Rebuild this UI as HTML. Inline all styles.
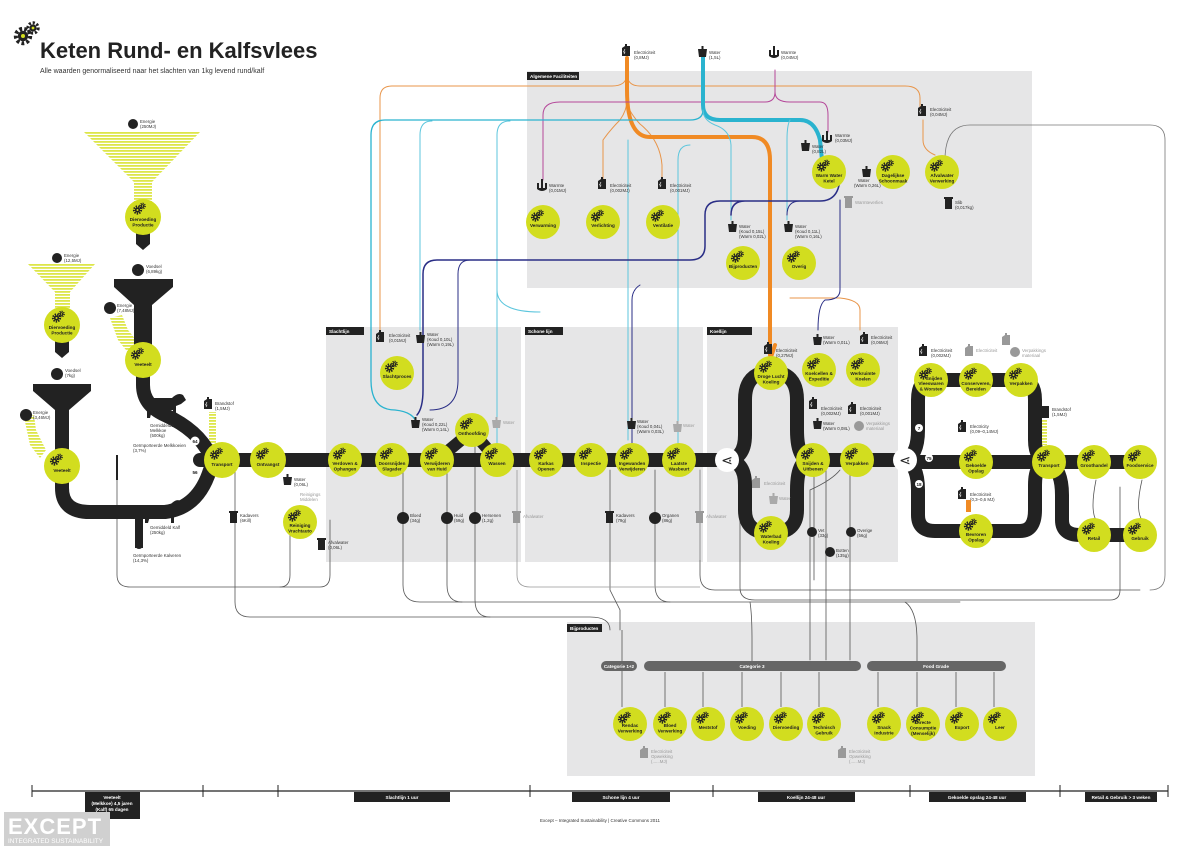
<!DOCTYPE html>
<html><head><meta charset="utf-8"><style>
html,body{margin:0;padding:0;background:#fff}
svg{display:block;font-family:"Liberation Sans",sans-serif}
.l{font-size:4.6px;font-weight:bold;text-anchor:middle;fill:#222}
.s{font-size:4.4px;fill:#333}
.g{font-size:4.4px;fill:#999}
.h{font-size:4.6px;fill:#fff;font-weight:bold}
.n{fill:#d2dd1f}
.ln{fill:none;stroke-linecap:round}
</style></head><body>
<svg width="1200" height="850" viewBox="0 0 1200 850" xmlns="http://www.w3.org/2000/svg">
<defs>
<symbol id="gr" viewBox="0 0 14 12" overflow="visible">
<circle cx="4.5" cy="7" r="2.6" fill="#222" stroke="#222" stroke-width="0"/>
<circle cx="4.5" cy="7" r="3.6" fill="none" stroke="#222" stroke-width="2" stroke-dasharray="1.4 1.1"/>
<circle cx="9.5" cy="3" r="1.8" fill="#222"/>
<circle cx="9.5" cy="3" r="2.6" fill="none" stroke="#222" stroke-width="1.5" stroke-dasharray="1.1 0.9"/>
<circle cx="4.5" cy="7" r="1" fill="#d2dd1f"/><circle cx="9.5" cy="3" r=".7" fill="#d2dd1f"/>
</symbol>
<symbol id="fac" overflow="visible"><path d="M0,12 V4 L3,2 V0 H5 V12 Z M5,12 V2 H8 V12Z" fill="#222"/><path d="M1,5 L-0.5,8 H1 L0,10" stroke="#fff" stroke-width=".6" fill="none" transform="translate(2,0)"/></symbol>
<symbol id="facg" overflow="visible"><path d="M0,12 V4 L3,2 V0 H5 V12 Z M5,12 V2 H8 V12Z" fill="#999"/></symbol>
<symbol id="cup" overflow="visible"><path d="M0,3 H9 L8,11 H1 Z" fill="#222"/><rect x="3.5" y="0" width="2" height="4" fill="#222"/></symbol>
<symbol id="cupg" overflow="visible"><path d="M0,3 H9 L8,11 H1 Z" fill="#aaa"/><rect x="3.5" y="0" width="2" height="4" fill="#aaa"/></symbol>
<symbol id="bin" overflow="visible"><rect x="0" y="2" width="7" height="10" fill="#222"/><rect x="-1" y="0" width="9" height="2" fill="#222"/></symbol>
<symbol id="bing" overflow="visible"><rect x="0" y="2" width="7" height="10" fill="#999"/><rect x="-1" y="0" width="9" height="2" fill="#999"/></symbol>
<symbol id="heat" overflow="visible"><path d="M0,4 V10 Q5,14 10,10 V4 H8 V9 H2 V4Z" fill="#222"/><rect x="4" y="0" width="2" height="9" fill="#222"/></symbol>
<pattern id="st" width="4" height="3" patternUnits="userSpaceOnUse"><rect width="4" height="1.8" fill="#dde64a"/></pattern>
</defs>

<!-- title -->
<use href="#gr" x="14" y="22" width="28" height="24"/>
<text x="40" y="58" font-size="22" font-weight="bold" fill="#222">Keten Rund- en Kalfsvlees</text>
<text x="40" y="73" font-size="7" fill="#333">Alle waarden genormaliseerd naar  het slachten van 1kg levend rund/kalf</text>

<!-- panels -->
<rect x="527" y="71" width="505" height="217" fill="#e6e6e7"/>
<rect x="527" y="72" width="52" height="8" fill="#222"/><text x="530" y="78" class="h">Algemene Faciliteiten</text>
<rect x="326" y="327" width="195" height="235" fill="#e6e6e7"/>
<rect x="326" y="327" width="38" height="8" fill="#222"/><text x="329" y="333" class="h">Slachtlijn</text>
<rect x="525" y="327" width="178" height="235" fill="#e6e6e7"/>
<rect x="525" y="327" width="38" height="8" fill="#222"/><text x="528" y="333" class="h">Schone lijn</text>
<rect x="707" y="327" width="191" height="235" fill="#e6e6e7"/>
<rect x="707" y="327" width="45" height="8" fill="#222"/><text x="710" y="333" class="h">Koellijn</text>
<rect x="567" y="622" width="468" height="154" fill="#e6e6e7"/>
<rect x="567" y="624" width="35" height="8" fill="#222"/><text x="570" y="630" class="h">Bijproducten</text>

<!-- colored utility lines -->
<g class="ln">
<path d="M920,110 V98 Q920,86 905,86 H640 Q628,86 627,75 Q626,86 612,86 H392 Q380,86 380,98 V330" stroke="#e8954a" stroke-width="1"/>
<path d="M627,58 V100 Q627,110 620,120 Q610,130 603,140 V180 M627,100 Q627,110 640,124 Q660,140 662,165 V180" stroke="#e8954a" stroke-width="1"/>
<path d="M627,58 V90 Q627,137 650,137 H752 Q770,137 770,160 V355" stroke="#f08a24" stroke-width="4"/>
<path d="M923,120 V140 Q923,150 935,155" stroke="#e8954a" stroke-width="1"/>
<path d="M775,345 L770,360" stroke="#f08a24" stroke-width="4"/>
<path d="M860,330 V310 Q860,300 840,298 H790" stroke="#e8954a" stroke-width="1"/>
<path d="M775,70 V92 Q775,102 765,102 H560 Q543,102 543,115 V180" stroke="#b5489a" stroke-width="1"/>
<path d="M775,92 Q775,102 790,102 H820 Q828,102 828,115 V132" stroke="#b5489a" stroke-width="1"/>
<path d="M703,55 V105 Q703,120 720,120 H800 Q815,120 820,140 L822,160" stroke="#2ab3cf" stroke-width="4"/>
<path d="M703,110 Q703,120 690,120 H385 Q371,120 371,135 V330" stroke="#2ab3cf" stroke-width="1.3"/>
<path d="M703,110 Q703,120 715,125 Q730,130 731,145 V220" stroke="#5cc6dd" stroke-width="1"/>
<path d="M790,120 Q787,125 787,140 V220" stroke="#5cc6dd" stroke-width="1"/>
<path d="M420,330 V135 Q420,121 432,121 M497,455 V135 Q497,121 510,121" stroke="#5cc6dd" stroke-width="1"/>
<path d="M371,330 V380 Q371,410 395,410 Q415,412 417,425" stroke="#2ab3cf" stroke-width="1.3"/>
<path d="M540,312 Q497,312 497,290" stroke="#5cc6dd" stroke-width="1"/>
<path d="M678,445 V160 Q678,145 690,145 M628,440 V140" stroke="#5cc6dd" stroke-width="1"/>
<path d="M840,175 Q840,201 820,201 H745 Q731,201 731,215 M745,201 H720 Q705,201 705,215 V246 Q705,260 690,260 H437 Q423,260 423,274 V390 Q423,408 417,415" stroke="#2a2e86" stroke-width="1.5"/>
<path d="M800,201 Q787,201 787,215 M470,260 Q458,260 458,274 V380 Q458,410 430,410" stroke="#2a2e86" stroke-width="1"/>
<path d="M840,200 V290 Q840,300 825,300 Q818,305 818,330" stroke="#2a2e86" stroke-width="1"/>
<path d="M632,445 V300 Q632,290 640,285" stroke="#2a2e86" stroke-width="1"/>
<path d="M945,160 Q945,125 970,125 H1150 Q1165,125 1165,140 V575 Q1165,590 1150,590" stroke="#777" stroke-width="0.8"/>
</g>

<!-- gray byproduct connectors -->
<g class="ln" stroke="#555" stroke-width="0.8">
<path d="M235,460 V602 Q235,617 250,617 H590 Q610,617 610,630"/>
<path d="M403,470 V585 Q403,602 420,602 H960"/>
<path d="M447,470 V585 Q447,602 462,602"/>
<path d="M475,445 V600 Q475,617 490,617"/>
<path d="M610,470 V590 Q615,600 620,610 V630"/>
<path d="M655,470 V585 Q655,602 670,602"/>
<path d="M117,480 V575 Q117,587 130,587 H320 Q330,587 330,575 V520"/>
<path d="M290,520 V575 Q290,587 280,587"/>
<path d="M840,470 Q832,480 810,490 V660 M826,470 V660 M850,470 V660 M814,475 V580"/>
<path d="M740,505 V588 Q740,600 755,600 H1110 Q1120,600 1120,590 V487"/>
<path d="M700,470 V575 Q700,590 715,590 H1140"/>
<path d="M750,602 Q752,615 752,640 V666 M905,602 Q917,610 917,640 V666"/>
<path d="M1096,480 Q1090,510 1096,520 M1142,480 Q1135,510 1142,520"/>
</g>
<g stroke="#999" stroke-width="0.8" fill="none"><path d="M517,470 V575 Q517,587 530,587 H700"/><path d="M700,470 V560"/></g>

<!-- funnels left -->
<polygon points="84,132 200,132 152,182 152,205 134,205 134,182" fill="url(#st)"/>
<polygon points="28,264 95,264 70,292 70,310 55,310 55,292" fill="url(#st)"/>
<polygon points="110,318 122,315 128,330 140,345 130,355 118,340" fill="url(#st)"/>
<polygon points="24,417 34,415 36,430 46,450 40,458 30,445" fill="url(#st)"/>
<rect x="209" y="412" width="7" height="40" fill="url(#st)"/>
<path d="M136,232 H150 V244 L143,250 L136,244Z" fill="#222"/>
<path d="M55,340 H69 V352 L62,358 L55,352Z" fill="#222"/>
<circle cx="133" cy="124" r="5" fill="#222"/><text x="140" y="123" class="s">Energie</text><text x="140" y="128" class="s">(250MJ)</text>
<circle cx="57" cy="258" r="5" fill="#222"/><text x="64" y="257" class="s">Energie</text><text x="64" y="262" class="s">(12,5MJ)</text>
<circle cx="138" cy="270" r="6" fill="#222"/><text x="146" y="268" class="s">Voedsel</text><text x="146" y="273" class="s">(6,89kg)</text>
<circle cx="57" cy="374" r="6" fill="#222"/><text x="65" y="372" class="s">Voedsel</text><text x="65" y="377" class="s">(7kg)</text>
<circle cx="110" cy="308" r="6" fill="#222"/><text x="117" y="307" class="s">Energie</text><text x="117" y="312" class="s">(7,48MJ)</text>
<circle cx="26" cy="415" r="6" fill="#222"/><text x="33" y="414" class="s">Energie</text><text x="33" y="419" class="s">(3,46MJ)</text>
<polygon points="114,279 173,279 173,287 152,305 152,350 134,350 134,305 114,287" fill="#222"/>
<polygon points="33,384 91,384 91,391 69,410 69,455 55,455 55,410 33,391" fill="#222"/>

<!-- main black tracks -->
<g class="ln" stroke="#222" stroke-width="14" stroke-linecap="butt">
<path d="M143,360 V385 Q143,405 165,415 Q198,430 210,455"/>
<path d="M62,466 V488 Q62,512 90,512 H165 Q198,508 210,470"/>
<path d="M139,510 V545" stroke-width="8"/>
<path d="M143,410 V430" stroke-width="0"/>
<path d="M200,460 H720"/>
<path d="M437,460 L472,431 L497,460" stroke-width="12"/>
<path d="M725,460 Q745,460 745,435 V400 Q745,372 771,372 Q797,372 797,400 V430 Q797,460 811,460"/>
<path d="M725,460 Q745,460 745,485 V510 Q745,533 771,533 Q797,533 797,510 V490 Q797,460 811,460"/>
<path d="M811,460 H905"/>
<path d="M905,460 Q918,455 918,430 V400 Q918,380 931,380 H1021 Q1035,380 1035,400 V440 Q1035,460 1049,462"/>
<path d="M905,460 Q918,465 918,490 V515 Q918,531 935,531 H1020 Q1035,531 1035,510 V485 Q1035,462 1049,462"/>
<path d="M905,462 H1140"/>
<path d="M1049,462 Q1062,470 1062,495 V520 Q1062,535 1080,535 H1140"/>
</g>
<path d="M117,455 V480" stroke="#222" stroke-width="2" fill="none"/>
<path d="M139,520 V548" stroke="#222" stroke-width="8" fill="none"/>
<!-- cows -->
<g fill="#222"><path d="M146,398 H172 Q178,392 183,395 L186,400 L181,404 L176,406 V418 H173 V410 H152 L150,418 H147 L147,408 Q143,403 146,398Z"/>
<path d="M143,505 H170 Q176,498 181,501 L184,506 L179,510 L174,512 V523 H171 V516 H150 L148,523 H145 L145,514 Q140,509 143,505Z"/></g>
<text x="150" y="427" class="s">Gemiddelde</text><text x="150" y="432" class="s">Melkkoe</text><text x="150" y="437" class="s">(500kg)</text>
<text x="133" y="447" class="s">Geïmporteerde Melkkoeien</text><text x="133" y="452" class="s">(3,7%)</text>
<text x="150" y="529" class="s">Gemiddeld Kalf</text><text x="150" y="534" class="s">(250kg)</text>
<text x="133" y="557" class="s">Geïmporteerde Kalveren</text><text x="133" y="562" class="s">(14,3%)</text>
<circle cx="195" cy="441" r="4.5" fill="#fff"/><text x="195" y="443" class="l" font-size="3.5">64</text>
<circle cx="195" cy="472" r="4.5" fill="#fff"/><text x="195" y="474" class="l" font-size="3.5">56</text>

<!-- splitters -->
<circle cx="727" cy="460" r="12" fill="#fff"/><text x="727" y="465" font-size="14" text-anchor="middle" fill="#222">⋖</text>
<circle cx="905" cy="460" r="12" fill="#fff"/><text x="905" y="465" font-size="14" text-anchor="middle" fill="#222">⋖</text>

<!-- nodes -->
<g id="nodes">
<g transform="translate(143,217)"><circle r="18" class="n"/><use href="#gr" x="-10" y="-14" width="14" height="12"/><text y="4" class="l">Diervoeding</text><text y="9.5" class="l">Productie</text></g>
<g transform="translate(62,325)"><circle r="18" class="n"/><use href="#gr" x="-10" y="-14" width="14" height="12"/><text y="4" class="l">Diervoeding</text><text y="9.5" class="l">Productie</text></g>
<g transform="translate(143,360)"><circle r="18" class="n"/><use href="#gr" x="-12" y="-12" width="14" height="12"/><text y="6" class="l">Veeteelt</text></g>
<g transform="translate(62,466)"><circle r="18" class="n"/><use href="#gr" x="-12" y="-12" width="14" height="12"/><text y="6" class="l">Veeteelt</text></g>
<g transform="translate(222,460)"><circle r="18" class="n"/><use href="#gr" x="-12" y="-12" width="14" height="12"/><text y="6" class="l">Transport</text></g>
<g transform="translate(268,460)"><circle r="18" class="n"/><use href="#gr" x="-12" y="-12" width="14" height="12"/><text y="6" class="l">Ontvangst</text></g>
<g transform="translate(300,522)"><circle r="17" class="n"/><use href="#gr" x="-12" y="-12" width="14" height="12"/><text y="5" class="l">Reiniging</text><text y="10.5" class="l">Vrachtauto</text></g>
<g transform="translate(345,460)"><circle r="17" class="n"/><use href="#gr" x="-12" y="-12" width="14" height="12"/><text y="5" class="l">Verdoven &amp;</text><text y="10.5" class="l">Ophangen</text></g>
<g transform="translate(392,460)"><circle r="17" class="n"/><use href="#gr" x="-12" y="-12" width="14" height="12"/><text y="5" class="l">Doorsnijden</text><text y="10.5" class="l">Slagader</text></g>
<g transform="translate(437,460)"><circle r="17" class="n"/><use href="#gr" x="-12" y="-12" width="14" height="12"/><text y="5" class="l">Verwijderen</text><text y="10.5" class="l">van Huid</text></g>
<g transform="translate(472,430)"><circle r="17" class="n"/><use href="#gr" x="-12" y="-12" width="14" height="12"/><text y="5" class="l">Onthoofding</text></g>
<g transform="translate(497,460)"><circle r="17" class="n"/><use href="#gr" x="-12" y="-12" width="14" height="12"/><text y="5" class="l">Wassen</text></g>
<g transform="translate(397,373)"><circle r="17" class="n"/><use href="#gr" x="-12" y="-12" width="14" height="12"/><text y="5" class="l">Slachtproces</text></g>
<g transform="translate(546,460)"><circle r="17" class="n"/><use href="#gr" x="-12" y="-12" width="14" height="12"/><text y="5" class="l">Karkas</text><text y="10.5" class="l">Openen</text></g>
<g transform="translate(591,460)"><circle r="17" class="n"/><use href="#gr" x="-12" y="-12" width="14" height="12"/><text y="5" class="l">Inspectie</text></g>
<g transform="translate(632,460)"><circle r="17" class="n"/><use href="#gr" x="-12" y="-12" width="14" height="12"/><text y="5" class="l">Ingewanden</text><text y="10.5" class="l">Verwijderen</text></g>
<g transform="translate(679,460)"><circle r="17" class="n"/><use href="#gr" x="-12" y="-12" width="14" height="12"/><text y="5" class="l">Laatste</text><text y="10.5" class="l">Wasbeurt</text></g>
<g transform="translate(771,373)"><circle r="17" class="n"/><use href="#gr" x="-12" y="-12" width="14" height="12"/><text y="5" class="l">Droge Lucht</text><text y="10.5" class="l">Koeling</text></g>
<g transform="translate(771,533)"><circle r="17" class="n"/><use href="#gr" x="-12" y="-12" width="14" height="12"/><text y="5" class="l">Waterbad</text><text y="10.5" class="l">Koeling</text></g>
<g transform="translate(819,370)"><circle r="17" class="n"/><use href="#gr" x="-12" y="-12" width="14" height="12"/><text y="5" class="l">Koelcellen &amp;</text><text y="10.5" class="l">Expeditie</text></g>
<g transform="translate(863,370)"><circle r="17" class="n"/><use href="#gr" x="-12" y="-12" width="14" height="12"/><text y="5" class="l">Werkruimte</text><text y="10.5" class="l">Koelen</text></g>
<g transform="translate(813,460)"><circle r="17" class="n"/><use href="#gr" x="-12" y="-12" width="14" height="12"/><text y="5" class="l">Snijden &amp;</text><text y="10.5" class="l">Uitbenen</text></g>
<g transform="translate(857,460)"><circle r="17" class="n"/><use href="#gr" x="-12" y="-12" width="14" height="12"/><text y="5" class="l">Verpakken</text></g>
<g transform="translate(931,380)"><circle r="17" class="n"/><use href="#gr" x="-12" y="-12" width="14" height="12"/><text x="3" y="0" class="l">Snijden</text><text y="5" class="l">Vleeswaren</text><text y="10.5" class="l">&amp; Worsten</text></g>
<g transform="translate(976,380)"><circle r="17" class="n"/><use href="#gr" x="-12" y="-12" width="14" height="12"/><text y="5" class="l">Conserveren,</text><text y="10.5" class="l">Bereiden</text></g>
<g transform="translate(1021,380)"><circle r="17" class="n"/><use href="#gr" x="-12" y="-12" width="14" height="12"/><text y="5" class="l">Verpakken</text></g>
<g transform="translate(976,462)"><circle r="17" class="n"/><use href="#gr" x="-12" y="-12" width="14" height="12"/><text y="5" class="l">Gekoelde</text><text y="10.5" class="l">Opslag</text></g>
<g transform="translate(976,531)"><circle r="17" class="n"/><use href="#gr" x="-12" y="-12" width="14" height="12"/><text y="5" class="l">Bevroren</text><text y="10.5" class="l">Opslag</text></g>
<g transform="translate(1049,462)"><circle r="17" class="n"/><use href="#gr" x="-12" y="-12" width="14" height="12"/><text y="5" class="l">Transport</text></g>
<g transform="translate(1094,462)"><circle r="17" class="n"/><use href="#gr" x="-12" y="-12" width="14" height="12"/><text y="5" class="l">Groothandel</text></g>
<g transform="translate(1140,462)"><circle r="17" class="n"/><use href="#gr" x="-12" y="-12" width="14" height="12"/><text y="5" class="l">Foodservice</text></g>
<g transform="translate(1094,535)"><circle r="17" class="n"/><use href="#gr" x="-12" y="-12" width="14" height="12"/><text y="5" class="l">Retail</text></g>
<g transform="translate(1140,535)"><circle r="17" class="n"/><use href="#gr" x="-12" y="-12" width="14" height="12"/><text y="5" class="l">Gebruik</text></g>
<!-- facilities -->
<g transform="translate(543,222)"><circle r="17" class="n"/><use href="#gr" x="-12" y="-12" width="14" height="12"/><text y="5" class="l">Verwarming</text></g>
<g transform="translate(603,222)"><circle r="17" class="n"/><use href="#gr" x="-12" y="-12" width="14" height="12"/><text y="5" class="l">Verlichting</text></g>
<g transform="translate(663,222)"><circle r="17" class="n"/><use href="#gr" x="-12" y="-12" width="14" height="12"/><text y="5" class="l">Ventilatie</text></g>
<g transform="translate(743,263)"><circle r="17" class="n"/><use href="#gr" x="-12" y="-12" width="14" height="12"/><text y="5" class="l">Bijproducten</text></g>
<g transform="translate(799,263)"><circle r="17" class="n"/><use href="#gr" x="-12" y="-12" width="14" height="12"/><text y="5" class="l">Overig</text></g>
<g transform="translate(829,172)"><circle r="17" class="n"/><use href="#gr" x="-12" y="-12" width="14" height="12"/><text y="5" class="l">Warm Water</text><text y="10.5" class="l">Ketel</text></g>
<g transform="translate(893,172)"><circle r="17" class="n"/><use href="#gr" x="-12" y="-12" width="14" height="12"/><text y="5" class="l">Dagelijkse</text><text y="10.5" class="l">Schoonmaak</text></g>
<g transform="translate(942,172)"><circle r="17" class="n"/><use href="#gr" x="-12" y="-12" width="14" height="12"/><text y="5" class="l">Afvalwater</text><text y="10.5" class="l">Verwerking</text></g>
<!-- byproducts -->
<g transform="translate(630,724)"><circle r="17" class="n"/><use href="#gr" x="-12" y="-12" width="14" height="12"/><text y="3" class="l">Rendac</text><text y="8.5" class="l">Verwerking</text></g>
<g transform="translate(670,724)"><circle r="17" class="n"/><use href="#gr" x="-12" y="-12" width="14" height="12"/><text y="3" class="l">Bloed</text><text y="8.5" class="l">Verwerking</text></g>
<g transform="translate(708,724)"><circle r="17" class="n"/><use href="#gr" x="-12" y="-12" width="14" height="12"/><text y="5" class="l">Meststof</text></g>
<g transform="translate(747,724)"><circle r="17" class="n"/><use href="#gr" x="-12" y="-12" width="14" height="12"/><text y="5" class="l">Voeding</text></g>
<g transform="translate(786,724)"><circle r="17" class="n"/><use href="#gr" x="-12" y="-12" width="14" height="12"/><text y="5" class="l">Diervoeding</text></g>
<g transform="translate(824,724)"><circle r="17" class="n"/><use href="#gr" x="-12" y="-12" width="14" height="12"/><text y="5" class="l">Technisch</text><text y="10.5" class="l">Gebruik</text></g>
<g transform="translate(884,724)"><circle r="17" class="n"/><use href="#gr" x="-12" y="-12" width="14" height="12"/><text y="5" class="l">Snack</text><text y="10.5" class="l">Industrie</text></g>
<g transform="translate(923,724)"><circle r="17" class="n"/><use href="#gr" x="-12" y="-12" width="14" height="12"/><text y="0" class="l">Directe</text><text y="5.5" class="l">Consumptie</text><text y="11" class="l">(Menselijk)</text></g>
<g transform="translate(962,724)"><circle r="17" class="n"/><use href="#gr" x="-12" y="-12" width="14" height="12"/><text y="5" class="l">Export</text></g>
<g transform="translate(1000,724)"><circle r="17" class="n"/><use href="#gr" x="-12" y="-12" width="14" height="12"/><text y="5" class="l">Leer</text></g>
</g>

<!-- bijproducten bars -->
<g stroke="#555" stroke-width="0.8">
<line x1="622" y1="630" x2="622" y2="707"/><line x1="665" y1="672" x2="665" y2="707"/><line x1="703" y1="672" x2="703" y2="707"/><line x1="742" y1="672" x2="742" y2="707"/><line x1="781" y1="672" x2="781" y2="707"/><line x1="819" y1="672" x2="819" y2="707"/><line x1="878" y1="672" x2="878" y2="707"/><line x1="917" y1="672" x2="917" y2="707"/><line x1="956" y1="672" x2="956" y2="707"/><line x1="994" y1="672" x2="994" y2="707"/>
</g>
<rect x="601" y="661" width="36" height="10" rx="5" fill="#666"/><text x="619" y="668" class="h" text-anchor="middle">Categorie 1+2</text>
<rect x="644" y="661" width="217" height="10" rx="5" fill="#666"/><text x="752" y="668" class="h" text-anchor="middle">Categorie 3</text>
<rect x="867" y="661" width="139" height="10" rx="5" fill="#666"/><text x="936" y="668" class="h" text-anchor="middle">Food Grade</text>
<use href="#facg" x="640" y="746"/><text x="651" y="753" class="g">Electriciteit</text><text x="651" y="758" class="g">Opwekking</text><text x="651" y="763" class="g">(......MJ)</text>
<use href="#facg" x="838" y="746"/><text x="849" y="753" class="g">Electriciteit</text><text x="849" y="758" class="g">Opwekking</text><text x="849" y="763" class="g">(......MJ)</text>

<!-- small icons & labels -->
<use href="#fac" x="622" y="44"/><text x="634" y="54" class="s">Electriciteit</text><text x="634" y="59" class="s">(0,8MJ)</text>
<use href="#cup" x="698" y="46"/><text x="709" y="54" class="s">Water</text><text x="709" y="59" class="s">(1,5L)</text>
<use href="#heat" x="769" y="46"/><text x="781" y="54" class="s">Warmte</text><text x="781" y="59" class="s">(0,04MJ)</text>
<use href="#fac" x="918" y="104"/><text x="930" y="111" class="s">Electriciteit</text><text x="930" y="116" class="s">(0,04MJ)</text>
<use href="#heat" x="822" y="131"/><text x="835" y="137" class="s">Warmte</text><text x="835" y="142" class="s">(0,03MJ)</text>
<use href="#cup" x="801" y="140"/><text x="812" y="148" class="s">Water</text><text x="812" y="153" class="s">(0,82L)</text>
<use href="#cup" x="862" y="166"/><text x="858" y="182" class="s">Water</text><text x="854" y="187" class="s">(Warm 0,26L)</text>
<use href="#bing" x="845" y="196"/><text x="855" y="204" class="g">Warmteverlies</text>
<use href="#bin" x="945" y="197"/><text x="955" y="204" class="s">Slib</text><text x="955" y="209" class="s">(0,017kg)</text>
<use href="#heat" x="537" y="179"/><text x="549" y="187" class="s">Warmte</text><text x="549" y="192" class="s">(0,01MJ)</text>
<use href="#fac" x="598" y="177"/><text x="610" y="187" class="s">Electriciteit</text><text x="610" y="192" class="s">(0,002MJ)</text>
<use href="#fac" x="658" y="177"/><text x="670" y="187" class="s">Electriciteit</text><text x="670" y="192" class="s">(0,001MJ)</text>
<use href="#cup" x="728" y="221"/><text x="739" y="228" class="s">Water</text><text x="739" y="233" class="s">(Koud 0,15L)</text><text x="739" y="238" class="s">(Warm 0,02L)</text>
<use href="#cup" x="784" y="221"/><text x="795" y="228" class="s">Water</text><text x="795" y="233" class="s">(Koud 0,11L)</text><text x="795" y="238" class="s">(Warm 0,16L)</text>
<use href="#fac" x="376" y="330"/><text x="389" y="337" class="s">Electriciteit</text><text x="389" y="342" class="s">(0,01MJ)</text>
<use href="#cup" x="416" y="332"/><text x="427" y="336" class="s">Water</text><text x="427" y="341" class="s">(Koud 0,10L)</text><text x="427" y="346" class="s">(Warm 0,19L)</text>
<use href="#cup" x="411" y="417"/><text x="422" y="421" class="s">Water</text><text x="422" y="426" class="s">(Koud 0,22L)</text><text x="422" y="431" class="s">(Warm 0,14L)</text>
<use href="#cupg" x="492" y="417"/><text x="503" y="424" class="g">Water</text>
<use href="#cup" x="627" y="418"/><text x="637" y="423" class="s">Water</text><text x="637" y="428" class="s">(Koud 0,04L)</text><text x="637" y="433" class="s">(Warm 0,03L)</text>
<use href="#cupg" x="673" y="421"/><text x="683" y="427" class="g">Water</text>
<use href="#fac" x="204" y="397"/><text x="215" y="405" class="s">Brandstof</text><text x="215" y="410" class="s">(1,5MJ)</text>
<use href="#bin" x="230" y="511"/><text x="240" y="517" class="s">Kadavers</text><text x="240" y="522" class="s">(6Kill)</text>
<use href="#cup" x="283" y="474"/><text x="294" y="481" class="s">Water</text><text x="294" y="486" class="s">(0,06L)</text>
<text x="300" y="496" class="g">Reinigings</text><text x="300" y="501" class="g">Middelen</text>
<use href="#bin" x="318" y="538"/><text x="328" y="544" class="s">Afvalwater</text><text x="328" y="549" class="s">(0,06L)</text>
<circle cx="403" cy="518" r="6" fill="#222"/><text x="410" y="517" class="s">Bloed</text><text x="410" y="522" class="s">(34g)</text>
<circle cx="447" cy="518" r="6" fill="#222"/><text x="454" y="517" class="s">Huid</text><text x="454" y="522" class="s">(59g)</text>
<circle cx="475" cy="518" r="6" fill="#222"/><text x="482" y="517" class="s">Hersenen</text><text x="482" y="522" class="s">(1,2g)</text>
<use href="#bing" x="513" y="511"/><text x="523" y="518" class="g">Afvalwater</text>
<use href="#bin" x="606" y="511"/><text x="616" y="517" class="s">Kadavers</text><text x="616" y="522" class="s">(79g)</text>
<circle cx="655" cy="518" r="6" fill="#222"/><text x="662" y="517" class="s">Organen</text><text x="662" y="522" class="s">(86g)</text>
<use href="#bing" x="696" y="511"/><text x="706" y="518" class="g">Afvalwater</text>
<use href="#fac" x="764" y="342"/><text x="776" y="352" class="s">Electriciteit</text><text x="776" y="357" class="s">(0,27MJ)</text>
<use href="#cup" x="813" y="334"/><text x="823" y="339" class="s">Water</text><text x="823" y="344" class="s">(Warm 0,01L)</text>
<use href="#fac" x="860" y="332"/><text x="871" y="339" class="s">Electriciteit</text><text x="871" y="344" class="s">(0,06MJ)</text>
<use href="#fac" x="809" y="397"/><text x="821" y="410" class="s">Electriciteit</text><text x="821" y="415" class="s">(0,002MJ)</text>
<use href="#cup" x="813" y="418"/><text x="823" y="425" class="s">Water</text><text x="823" y="430" class="s">(Warm 0,08L)</text>
<use href="#fac" x="848" y="402"/><text x="860" y="410" class="s">Electriciteit</text><text x="860" y="415" class="s">(0,001MJ)</text>
<circle cx="859" cy="426" r="5" fill="#999"/><text x="866" y="425" class="g">Verpakkings</text><text x="866" y="430" class="g">materiaal</text>
<use href="#facg" x="752" y="476"/><text x="764" y="485" class="g">Electriciteit</text>
<use href="#cupg" x="769" y="493"/><text x="779" y="500" class="g">Water</text>
<circle cx="812" cy="532" r="5" fill="#222"/><text x="818" y="532" class="s">Vet</text><text x="818" y="537" class="s">(33g)</text>
<circle cx="830" cy="552" r="5" fill="#222"/><text x="836" y="552" class="s">Botten</text><text x="836" y="557" class="s">(135g)</text>
<circle cx="851" cy="532" r="5" fill="#222"/><text x="857" y="532" class="s">Overige</text><text x="857" y="537" class="s">(56g)</text>
<use href="#fac" x="919" y="344"/><text x="931" y="352" class="s">Electriciteit</text><text x="931" y="357" class="s">(0,002MJ)</text>
<use href="#facg" x="965" y="344"/><text x="976" y="352" class="g">Electriciteit</text>
<use href="#facg" x="1002" y="333"/><circle cx="1015" cy="352" r="5" fill="#999"/><text x="1022" y="352" class="g">Verpakkings</text><text x="1022" y="357" class="g">materiaal</text>
<use href="#fac" x="958" y="420"/><text x="970" y="428" class="s">Electricity</text><text x="970" y="433" class="s">(0,09–0,14MJ)</text>
<use href="#fac" x="958" y="487"/><text x="970" y="496" class="s">Electriciteit</text><text x="970" y="501" class="s">(0,3–0,6 MJ)</text>
<rect x="966" y="500" width="5" height="12" fill="#f08a24"/>
<rect x="1040" y="406" width="9" height="12" fill="#222"/><rect x="1042" y="419" width="5" height="26" fill="url(#st)"/><text x="1052" y="411" class="s">Brandstof</text><text x="1052" y="416" class="s">(1,5MJ)</text>
<circle cx="919" cy="428" r="4" fill="#fff"/><text x="919" y="430" class="l" font-size="3.5">7</text>
<circle cx="929" cy="458" r="4" fill="#fff"/><text x="929" y="460" class="l" font-size="3.5">75</text>
<circle cx="919" cy="484" r="4" fill="#fff"/><text x="919" y="486" class="l" font-size="3.5">18</text>

<!-- timeline -->
<line x1="32" y1="791" x2="1168" y2="791" stroke="#222" stroke-width="1.2"/>
<g stroke="#222" stroke-width="1"><line x1="32" y1="785" x2="32" y2="797"/><line x1="203" y1="785" x2="203" y2="797"/><line x1="278" y1="785" x2="278" y2="797"/><line x1="530" y1="785" x2="530" y2="797"/><line x1="713" y1="785" x2="713" y2="797"/><line x1="910" y1="785" x2="910" y2="797"/><line x1="1060" y1="785" x2="1060" y2="797"/><line x1="1168" y1="785" x2="1168" y2="797"/></g>
<rect x="85" y="792" width="55" height="27" fill="#222"/><text x="112" y="799" class="h" text-anchor="middle">Veeteelt</text><text x="112" y="805" class="h" text-anchor="middle">(Melkkoe) 4,5 jaren</text><text x="112" y="811" class="h" text-anchor="middle">(Kalf) 65 dagen</text>
<rect x="354" y="792" width="96" height="10" fill="#222"/><text x="402" y="799" class="h" text-anchor="middle">Slachtlijn 1 uur</text>
<rect x="572" y="792" width="98" height="10" fill="#222"/><text x="621" y="799" class="h" text-anchor="middle">Schone lijn 4 uur</text>
<rect x="758" y="792" width="97" height="10" fill="#222"/><text x="806" y="799" class="h" text-anchor="middle">Koellijn 24-48 uur</text>
<rect x="929" y="792" width="97" height="10" fill="#222"/><text x="977" y="799" class="h" text-anchor="middle">Gekoelde opslag 24-48 uur</text>
<rect x="1085" y="792" width="72" height="10" fill="#222"/><text x="1121" y="799" class="h" text-anchor="middle">Retail &amp; Gebruik &gt; 3 weken</text>
<text x="600" y="822" font-size="4.5" fill="#333" text-anchor="middle">Except – Integrated Sustainability | Creative Commons 2011</text>
<rect x="4" y="812" width="106" height="34" fill="#d0d0d0"/>
<text x="8" y="834" font-size="22" font-weight="bold" fill="#fff" letter-spacing="1">EXCEPT</text>
<text x="8" y="843" font-size="6.5" fill="#fff">INTEGRATED SUSTAINABILITY</text>
</svg>
</body></html>
